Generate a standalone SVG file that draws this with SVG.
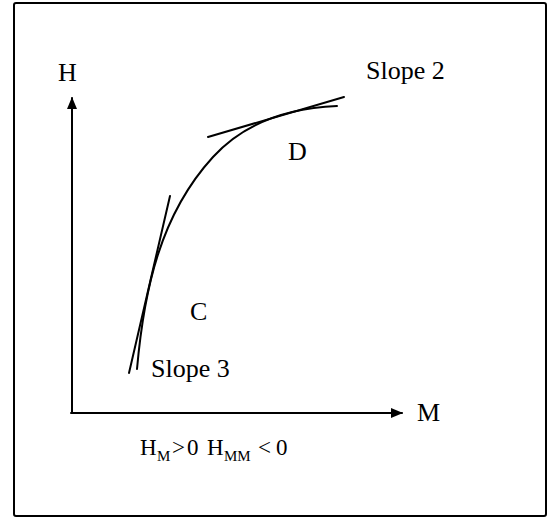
<svg xmlns="http://www.w3.org/2000/svg" width="555" height="518" viewBox="0 0 555 518">
<style>
.t{font-family:"Liberation Serif","Times New Roman",serif;font-size:26px;fill:#000}
.f{font-size:23px}
.s{font-size:15px}
.ln{fill:none;stroke:#000;stroke-width:2;stroke-linecap:round}
</style>
<defs>
<marker id="ah" viewBox="0 0 12 10" refX="11" refY="5" markerWidth="12" markerHeight="10" markerUnits="userSpaceOnUse" orient="auto">
<path d="M0,0 L12,5 L0,10 Z" fill="#000"/>
</marker>
</defs>
<rect width="555" height="518" fill="#fff"/>
<rect id="frame" x="14" y="3" width="532" height="513" rx="2" fill="none" stroke="#000" stroke-width="2"/>
<g id="axes">
<line class="ln" x1="72" y1="413" x2="72" y2="98" marker-end="url(#ah)"/>
<line class="ln" x1="71" y1="413" x2="402" y2="413" marker-end="url(#ah)"/>
</g>
<g id="curve">
<path class="ln" d="M137,369 C144,290 160,215 213,157 C245,122 290,108 337,106"/>
</g>
<g id="tangents">
<line class="ln" x1="129" y1="373" x2="170" y2="196"/>
<line class="ln" x1="208" y1="137" x2="344" y2="97"/>
</g>
<g id="labels">
<text class="t" x="58" y="81">H</text>
<text class="t" x="366" y="79">Slope 2</text>
<text class="t" x="288" y="160">D</text>
<text class="t" x="190" y="320">C</text>
<text class="t" x="151" y="377">Slope 3</text>
<text class="t" x="417" y="421">M</text>
<text class="t f"><tspan x="140" y="455">H</tspan><tspan class="s" x="157" y="461">M</tspan><tspan x="172" y="455">&gt;</tspan><tspan x="187" y="455">0</tspan><tspan x="207" y="455">H</tspan><tspan class="s" x="224" y="461">MM</tspan><tspan x="258" y="455">&lt;</tspan><tspan x="276" y="455">0</tspan></text>
</g>
</svg>
